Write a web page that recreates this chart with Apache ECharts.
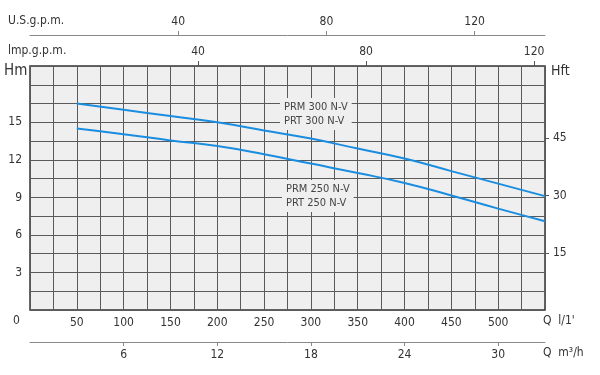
<!DOCTYPE html>
<html>
<head>
<meta charset="utf-8">
<script src="https://cdn.jsdelivr.net/npm/echarts@6/dist/echarts.min.js"></script>
<style>
  html, body { margin: 0; padding: 0; background: #fff; }
  #chart { width: 600px; height: 375px; }
</style>
</head>
<body>
<div id="chart"></div>
<script>
// flow in l/min and head in m
const flow = [50, 100, 150, 200, 250, 300, 350, 400, 450, 500, 550]
const headPrm300 = [16.5, 16.0, 15.5, 15.0, 14.35, 13.7, 12.9, 12.1, 11.1, 10.1, 9.1]
const headPrm250 = [14.5, 14.05, 13.55, 13.1, 12.45, 11.7, 10.95, 10.15, 9.15, 8.1, 7.1]

const flowLabels = [50, 100, 150, 200, 250, 300, 350, 400, 450, 500]
const hmLabels = [3, 6, 9, 12, 15]
const hftLabels = [15, 30, 45]
const m3hLabels = [6, 12, 18, 24, 30]
const gpmLabels = [40, 80, 120]

const FONT = '"DejaVu Sans Condensed", "DejaVu Sans", sans-serif'
const TXT = '#333'
const GRIDC = '#5a5a5a'
const BLUE = '#1a8de0'

const chart = echarts.init(document.getElementById('chart'))

const pick = list => v => (list.includes(Math.round(v)) ? String(Math.round(v)) : '')

const option = {
  animation: false,
  backgroundColor: '#fff',
  textStyle: { fontFamily: FONT },
  grid: {
    left: 30,
    top: 66,
    width: 515,
    height: 244,
    show: true,
    backgroundColor: '#efefef',
    borderColor: '#333',
    borderWidth: 1.5
  },
  xAxis: [
    {
      type: 'value',
      position: 'bottom',
      min: 0,
      max: 550,
      interval: 25,
      axisLine: { show: false, onZero: false },
      axisTick: { show: false },
      axisLabel: { color: TXT, fontSize: 12, margin: 7, formatter: pick(flowLabels) },
      splitLine: { show: true, lineStyle: { color: GRIDC, width: 1 } }
    },
    {
      type: 'value',
      position: 'bottom',
      offset: 32,
      min: 0,
      max: 33,
      interval: 6,
      axisLine: { show: true, onZero: false, lineStyle: { color: '#888', width: 1 } },
      axisTick: { show: true, length: 4, customValues: m3hLabels, lineStyle: { color: '#888' } },
      axisLabel: { color: TXT, fontSize: 12, margin: 7, customValues: m3hLabels },
      splitLine: { show: false }
    },
    {
      type: 'value',
      position: 'top',
      min: 0,
      max: 122.6,
      interval: 40,
      axisLine: { show: false, onZero: false },
      axisTick: { show: true, length: 5, customValues: gpmLabels, lineStyle: { color: '#555' } },
      axisLabel: { color: TXT, fontSize: 12, margin: 8, customValues: gpmLabels },
      splitLine: { show: false }
    },
    {
      type: 'value',
      position: 'top',
      offset: 31,
      min: 0,
      max: 139,
      interval: 40,
      axisLine: { show: true, onZero: false, lineStyle: { color: '#888', width: 1 } },
      axisTick: { show: true, length: 4, customValues: gpmLabels, lineStyle: { color: '#888' } },
      axisLabel: { color: TXT, fontSize: 12, margin: 7, customValues: gpmLabels },
      splitLine: { show: false }
    }
  ],
  yAxis: [
    {
      type: 'value',
      position: 'left',
      min: 0,
      max: 19.5,
      interval: 1.5,
      axisLine: { show: false, onZero: false },
      axisTick: { show: false },
      axisLabel: { color: TXT, fontSize: 12, margin: 8, formatter: pick(hmLabels) },
      splitLine: { show: true, lineStyle: { color: GRIDC, width: 1 } }
    },
    {
      type: 'value',
      position: 'right',
      min: 0,
      max: 19.5 / 0.3048,
      interval: 15,
      axisLine: { show: false, onZero: false },
      axisTick: { show: true, length: 4, customValues: hftLabels, lineStyle: { color: '#555' } },
      axisLabel: { color: TXT, fontSize: 12, margin: 8, customValues: hftLabels },
      splitLine: { show: false }
    }
  ],
  graphic: [
    { type: 'text', left: 8, top: 15, style: { text: 'U.S.g.p.m.', fill: TXT, font: '12px ' + FONT } },
    { type: 'text', left: 8, top: 45, style: { text: 'lmp.g.p.m.', fill: TXT, font: '12px ' + FONT } },
    { type: 'text', left: 4, top: 64, style: { text: 'Hm', fill: TXT, font: '15px ' + FONT } },
    { type: 'text', left: 551, top: 64, style: { text: 'Hft', fill: TXT, font: '14px ' + FONT } },
    { type: 'text', left: 13, top: 315, style: { text: '0', fill: TXT, font: '12px ' + FONT } },
    { type: 'text', left: 543, top: 315, style: { text: "Q  l/1'", fill: TXT, font: '12px ' + FONT } },
    { type: 'text', left: 543, top: 347, style: { text: 'Q  m³/h', fill: TXT, font: '12px ' + FONT } },
    {
      type: 'text', left: 280, top: 98, z: 100,
      style: {
        text: 'PRM 300 N-V\nPRT 300 N-V', fill: '#444', font: '11px ' + FONT,
        align: 'center', lineHeight: 14, backgroundColor: '#efefef', padding: [2, 4]
      }
    },
    {
      type: 'text', left: 282, top: 180, z: 100,
      style: {
        text: 'PRM 250 N-V\nPRT 250 N-V', fill: '#444', font: '11px ' + FONT,
        align: 'center', lineHeight: 14, backgroundColor: '#efefef', padding: [2, 4]
      }
    }
  ],
  series: [
    {
      name: 'PRM 300 N-V',
      type: 'line',
      xAxisIndex: 0,
      yAxisIndex: 0,
      smooth: true,
      symbol: 'none',
      lineStyle: { color: BLUE, width: 2 },
      data: flow.map((q, i) => [q, headPrm300[i]])
    },
    {
      name: 'PRM 250 N-V',
      type: 'line',
      xAxisIndex: 0,
      yAxisIndex: 0,
      smooth: true,
      symbol: 'none',
      lineStyle: { color: BLUE, width: 2 },
      data: flow.map((q, i) => [q, headPrm250[i]])
    }
  ]
}

chart.setOption(option)

window.addEventListener('resize', () => {
  chart.resize()
})
</script>
</body>
</html>
